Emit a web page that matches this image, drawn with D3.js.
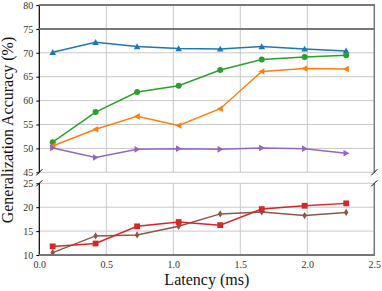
<!DOCTYPE html>
<html>
<head>
<meta charset="utf-8">
<script src="https://cdn.jsdelivr.net/npm/d3@7"></script>
<style>
  body { margin: 0; background: #fff; }
  text { font-family: "Liberation Serif", "DejaVu Serif", serif; }
</style>
</head>
<body>
<svg id="chart"></svg>
<script>
// latency values shared by every series
var latency = [0.1, 0.42, 0.73, 1.04, 1.35, 1.66, 1.98, 2.29]

// upper panel series
var blueAcc = [70.1, 72.2, 71.3, 70.9, 70.8, 71.3, 70.8, 70.4]
var greenAcc = [51.3, 57.6, 61.8, 63.1, 66.4, 68.6, 69.1, 69.5]
var orangeAcc = [50.5, 54.0, 56.7, 54.8, 58.3, 66.1, 66.7, 66.6]
var purpleAcc = [50.1, 48.1, 49.8, 49.95, 49.8, 50.1, 49.95, 49.0]

// lower panel series
var redAcc = [11.8, 12.4, 16.0, 16.9, 16.25, 19.6, 20.3, 20.8]
var brownAcc = [10.5, 14.0, 14.2, 16.0, 18.6, 19.0, 18.25, 18.9]

var xTicks = [0, 0.5, 1.0, 1.5, 2.0, 2.5]
var topTicks = [45, 50, 55, 60, 65, 70, 75, 80]
var bottomTicks = [10, 15, 20, 25]
var refLine = 75

var serif = "'Liberation Serif', 'DejaVu Serif', serif"

var vis = {
  "width": 382,
  "height": 291,
  "left": 39.3,
  "right": 374.3,
  "top": { "y0": 5, "y1": 172.3, "domain": [45, 80] },
  "bottom": { "y0": 183.3, "y1": 255, "domain": [10, 25] }
}

var svg = d3.select("#chart")
  .attr("width", vis.width)
  .attr("height", vis.height)

var xScale = d3.scaleLinear().domain([0, 2.5]).range([vis.left, vis.right])
var yTop = d3.scaleLinear().domain(vis.top.domain).range([vis.top.y1, vis.top.y0])
var yBottom = d3.scaleLinear().domain(vis.bottom.domain).range([vis.bottom.y1, vis.bottom.y0])

// draw one panel: grid, axes and spines
function drawPanel(yScale, ticks, panel, which) {
  var g = svg.append("g")

  // vertical grid
  g.selectAll(".vgrid")
    .data(xTicks.slice(1, -1))
    .enter().append("line")
    .attr("x1", function(d) { return xScale(d) })
    .attr("x2", function(d) { return xScale(d) })
    .attr("y1", panel.y0)
    .attr("y2", panel.y1)
    .style("stroke", "#c8c8c8")
    .style("stroke-width", 1)

  // horizontal grid
  g.selectAll(".hgrid")
    .data(ticks)
    .enter().append("line")
    .attr("x1", vis.left)
    .attr("x2", vis.right)
    .attr("y1", function(d) { return yScale(d) })
    .attr("y2", function(d) { return yScale(d) })
    .style("stroke", "#c8c8c8")
    .style("stroke-width", 1)

  // y axis
  var ax = g.append("g")
    .attr("transform", "translate(" + vis.left + ",0)")
    .call(d3.axisLeft(yScale).tickValues(ticks).tickSize(3).tickPadding(3))
    .attr("font-family", serif)
    .attr("font-size", 10)
  ax.select(".domain").remove()
  ax.selectAll(".tick line").style("stroke", "#000")
  ax.selectAll(".tick text").style("fill", "#333")

  // left spine
  g.append("line")
    .attr("x1", vis.left).attr("x2", vis.left)
    .attr("y1", panel.y0).attr("y2", panel.y1)
    .style("stroke", "#000").style("stroke-width", 1.2)
  // right spine
  g.append("line")
    .attr("x1", vis.right).attr("x2", vis.right)
    .attr("y1", panel.y0).attr("y2", panel.y1)
    .style("stroke", "#777").style("stroke-width", 1.5)

  // outer spine (top of upper, bottom of lower)
  var yy = which == "top" ? panel.y0 : panel.y1
  g.append("line")
    .attr("x1", vis.left).attr("x2", vis.right + 0.75)
    .attr("y1", yy).attr("y2", yy)
    .style("stroke", "#777").style("stroke-width", 2)

  // break marks
  var yb = which == "top" ? panel.y1 : panel.y0
  ;[vis.left, vis.right].forEach(function(x) {
    g.append("line")
      .attr("x1", x - 3).attr("x2", x + 3)
      .attr("y1", yb + 3).attr("y2", yb - 3)
      .style("stroke", "#000").style("stroke-width", 1)
  })
  return g
}

var topPanel = drawPanel(yTop, topTicks, vis.top, "top")
var bottomPanel = drawPanel(yBottom, bottomTicks, vis.bottom, "bottom")

// reference line at 75
topPanel.append("line")
  .attr("x1", vis.left).attr("x2", vis.right)
  .attr("y1", yTop(refLine)).attr("y2", yTop(refLine))
  .style("stroke", "#777").style("stroke-width", 2)

// x axis under the lower panel
var xAxis = svg.append("g")
  .attr("transform", "translate(0," + vis.bottom.y1 + ")")
  .call(d3.axisBottom(xScale).tickValues(xTicks).tickSize(0).tickPadding(6)
    .tickFormat(d3.format(".1f")))
  .attr("font-family", serif)
  .attr("font-size", 10)
xAxis.select(".domain").remove()
xAxis.selectAll(".tick text").style("fill", "#333")

// series
var series = [
  { "values": blueAcc, "color": "#1f77b4", "marker": "triUp", "y": yTop, "g": topPanel },
  { "values": greenAcc, "color": "#2ca02c", "marker": "circle", "y": yTop, "g": topPanel },
  { "values": orangeAcc, "color": "#ff7f0e", "marker": "triLeft", "y": yTop, "g": topPanel },
  { "values": purpleAcc, "color": "#9467bd", "marker": "triRight", "y": yTop, "g": topPanel },
  { "values": brownAcc, "color": "#8c564b", "marker": "thinDiamond", "y": yBottom, "g": bottomPanel },
  { "values": redAcc, "color": "#d62728", "marker": "square", "y": yBottom, "g": bottomPanel }
]

function markerPath(type) {
  var s = 3.3
  if (type == "triUp") return "M0," + (-s) + "L" + s + "," + (s * 0.8) + "L" + (-s) + "," + (s * 0.8) + "Z"
  if (type == "triLeft") return "M" + (-s) + ",0L" + (s * 0.8) + "," + (-s) + "L" + (s * 0.8) + "," + s + "Z"
  if (type == "triRight") return "M" + s + ",0L" + (-s * 0.8) + "," + (-s) + "L" + (-s * 0.8) + "," + s + "Z"
  if (type == "square") return "M-2.9,-2.9L2.9,-2.9L2.9,2.9L-2.9,2.9Z"
  if (type == "thinDiamond") return "M0,-3.6L2.3,0L0,3.6L-2.3,0Z"
  return null
}

series.forEach(function(s) {
  var line = d3.line()
    .x(function(d, i) { return xScale(latency[i]) })
    .y(function(d) { return s.y(d) })

  s.g.append("path")
    .datum(s.values)
    .attr("d", line)
    .style("fill", "none")
    .style("stroke", s.color)
    .style("stroke-width", 1.5)

  var pts = s.g.selectAll(null)
    .data(s.values)
    .enter()

  if (s.marker == "circle") {
    pts.append("circle")
      .attr("cx", function(d, i) { return xScale(latency[i]) })
      .attr("cy", function(d) { return s.y(d) })
      .attr("r", 3)
      .style("fill", s.color)
  } else {
    pts.append("path")
      .attr("transform", function(d, i) { return "translate(" + xScale(latency[i]) + "," + s.y(d) + ")" })
      .attr("d", markerPath(s.marker))
      .style("fill", s.color)
  }
})

// axis labels
svg.append("text")
  .attr("x", (vis.left + vis.right) / 2)
  .attr("y", 285)
  .attr("text-anchor", "middle")
  .style("font-size", "16px")
  .style("fill", "#111")
  .text("Latency (ms)")

svg.append("text")
  .attr("transform", "translate(13,130) rotate(-90)")
  .attr("text-anchor", "middle")
  .style("font-size", "16px")
  .style("fill", "#111")
  .text("Generalization Accuracy (%)")
</script>
</body>
</html>
